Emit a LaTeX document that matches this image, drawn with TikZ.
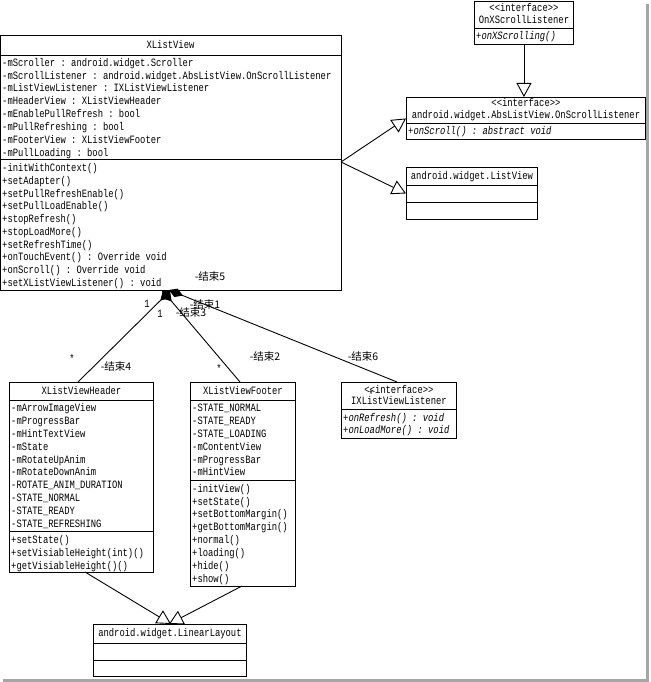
\documentclass[tikz,border=0pt]{standalone}
\usepackage{fontspec}
\setmonofont[FakeStretch=0.79]{Liberation Mono}
\newfontfamily\cjk{Noto Sans CJK SC}
\usetikzlibrary{arrows.meta,calc}
\newcommand\umlfont{\ttfamily\fontsize{11.2}{12}\selectfont}
\newcommand\txtlines[5]{%
  \foreach \mytext [count=\i from 0] in {#5}
    \node[ln] (#1\i) at (#2,#3+#4*\i+3.7) {\mytext};}
\tikzset{
  cls/.style={draw, line width=0.9pt, anchor=north west, inner sep=0pt, fill=white},
  ln/.style={anchor=base west, inner sep=0pt, font=\umlfont},
  ttl/.style={anchor=base, inner sep=0pt, font=\umlfont},
  lab/.style={inner sep=0pt, font=\cjk\fontsize{10.5}{12}\selectfont},
  mult/.style={inner sep=0pt, font=\umlfont},
  sep/.style={line width=0.9pt},
  gen/.style={line width=0.9pt, -{Triangle[open,length=14pt,width=15pt]}},
  comp/.style={line width=0.9pt, -{Diamond[length=15pt,width=9pt]}},
}
\begin{document}
\begin{tikzpicture}[x=1pt,y=-1pt]
\useasboundingbox (0,0) rectangle (650,682);
% frame shadow
\draw[gray!70, line width=3pt] (3,680.5) -- (647.5,680.5) -- (647.5,4);

% ---------- XListView ----------
\node[cls, minimum width=341pt, minimum height=255pt] (xlv) at (0,35) {};
\node[ttl] (xlvt) at (170.5,48.7) {XListView};
\draw[sep] (xlv.west |- 0,55) -- (xlv.east |- 0,55);
\txtlines{xa}{2}{62.5}{12.85}{-mScroller : android.widget.Scroller,
 -mScrollListener : android.widget.AbsListView.OnScrollListener,
 -mListViewListener : IXListViewListener,
 -mHeaderView : XListViewHeader,
 -mEnablePullRefresh : bool,
 -mPullRefreshing : bool,
 -mFooterView : XListViewFooter,
 -mPullLoading : bool}
\draw[sep] (xlv.west |- 0,159.5) -- (xlv.east |- 0,159.5);
\txtlines{xm}{2}{168}{12.75}{-initWithContext(),
 +setAdapter(),
 +setPullRefreshEnable(),
 +setPullLoadEnable(),
 +stopRefresh(),
 +stopLoadMore(),
 +setRefreshTime(),
 +onTouchEvent() : Override void,
 +onScroll() : Override void,
 +setXListViewListener() : void}

% ---------- OnXScrollListener ----------
\node[cls, minimum width=99pt, minimum height=43pt] (onx) at (474,1) {};
\node[ttl] (onxs) at (onx.north |- 0,11.7) {<{}<interface>{}>};
\node[ttl] (onxt) at (onx.north |- 0,23.7) {OnXScrollListener};
\draw[sep] (onx.west |- 0,28.5) -- (onx.east |- 0,28.5);
\node[ln] (onxm) at (476,39.7) {\itshape +onXScrolling()};

% ---------- AbsListView.OnScrollListener ----------
\node[cls, minimum width=239pt, minimum height=42pt] (abs) at (406,97) {};
\node[ttl] (abss) at (abs.north |- 0,106.7) {<{}<interface>{}>};
\node[ttl] (abst) at (abs.north |- 0,118.7) {android.widget.AbsListView.OnScrollListener};
\draw[sep] (abs.west |- 0,123.5) -- (abs.east |- 0,123.5);
\node[ln] (absm) at (408,134.7) {\itshape +onScroll() : abstract void};

% ---------- ListView ----------
\node[cls, minimum width=131pt, minimum height=52pt] (lv) at (406,167) {};
\node[ttl] (lvt) at (lv.north |- 0,179.7) {android.widget.ListView};
\draw[sep] (lv.west |- 0,185.5) -- (lv.east |- 0,185.5);
\draw[sep] (lv.west |- 0,202.5) -- (lv.east |- 0,202.5);

% ---------- XListViewHeader ----------
\node[cls, minimum width=144pt, minimum height=190pt] (hdr) at (9,382) {};
\node[ttl] (hdrt) at (hdr.north |- 0,394.7) {XListViewHeader};
\draw[sep] (hdr.west |- 0,400) -- (hdr.east |- 0,400);
\txtlines{ha}{11}{408}{12.85}{-mArrowImageView,
 -mProgressBar,
 -mHintTextView,
 -mState,
 -mRotateUpAnim,
 -mRotateDownAnim,
 -ROTATE\_ANIM\_DURATION,
 -STATE\_NORMAL,
 -STATE\_READY,
 -STATE\_REFRESHING}
\draw[sep] (hdr.west |- 0,531) -- (hdr.east |- 0,531);
\txtlines{hm}{11}{540}{12.85}{+setState(),
 +setVisiableHeight(int)(),
 +getVisiableHeight()()}

% ---------- XListViewFooter ----------
\node[cls, minimum width=105pt, minimum height=204pt] (ftr) at (190,382) {};
\node[ttl] (ftrt) at (ftr.north |- 0,394.7) {XListViewFooter};
\draw[sep] (ftr.west |- 0,400) -- (ftr.east |- 0,400);
\txtlines{fa}{192}{408}{12.85}{-STATE\_NORMAL,
 -STATE\_READY,
 -STATE\_LOADING,
 -mContentView,
 -mProgressBar,
 -mHintView}
\draw[sep] (ftr.west |- 0,480) -- (ftr.east |- 0,480);
\txtlines{fm}{192}{488.5}{12.85}{-initView(),
 +setState(),
 +setBottomMargin(),
 +getBottomMargin(),
 +normal(),
 +loading(),
 +hide(),
 +show()}

% ---------- IXListViewListener ----------
\node[cls, minimum width=115pt, minimum height=56pt] (ixl) at (341,382) {};
\node[ttl] (ixls) at (ixl.north |- 0,393.7) {<{}<interface>{}>};
\node[ttl] (ixlt) at (ixl.north |- 0,404.7) {IXListViewListener};
\draw[sep] (ixl.west |- 0,409) -- (ixl.east |- 0,409);
\node[ln] (ixm0) at (343,421.7) {\itshape +onRefresh() : void};
\node[ln] (ixm1) at (343,433.7) {\itshape +onLoadMore() : void};

% ---------- LinearLayout ----------
\node[cls, minimum width=153pt, minimum height=52pt] (ll) at (93,624) {};
\node[ttl] (llt) at (ll.north |- 0,636.7) {android.widget.LinearLayout};
\draw[sep] (ll.west |- 0,643) -- (ll.east |- 0,643);
\draw[sep] (ll.west |- 0,660) -- (ll.east |- 0,660);

% ---------- generalizations ----------
\coordinate (xg) at (341,162);
\draw[gen] (onx.south) -- (onx.south |- abs.north);
\draw[gen] (xg) -- (abs.west);
\draw[gen] (xg) -- (lv.west);
\coordinate (hb) at (85,572);
\coordinate (fb) at (242,586);
\coordinate (t1) at (171,624);
\coordinate (t2) at (169,624);
\draw[gen] (hb) -- (t1);
\draw[gen] (fb) -- (t2);

% ---------- compositions ----------
\coordinate (c1) at (171,290);
\coordinate (c2) at (162,290);
\coordinate (c3) at (169,290);
\coordinate (h1) at (78,382);
\coordinate (f1) at (240,382);
\coordinate (i1) at (397,382);
\draw[comp] (h1) -- (c1);
\draw[comp] (f1) -- (c2);
\draw[comp] (i1) -- (c3);

% ---------- labels ----------
\node[lab] (l5) at (210,277) {-结束5};
\node[lab] (l1) at (205,305) {-结束1};
\node[lab] (l3) at (191,313) {-结束3};
\node[lab] (l4) at (116,367) {-结束4};
\node[lab] (l2) at (265,357) {-结束2};
\node[lab] (l6) at (363,357) {-结束6};
\node[mult] (m1) at (147,304) {1};
\node[mult] (m2) at (160,314) {1};
\node[mult] (s1) at (72,358) {*};
\node[mult] (s2) at (219,368) {*};
\node[mult] (s3) at (371,394) {*};
\end{tikzpicture}
\end{document}
